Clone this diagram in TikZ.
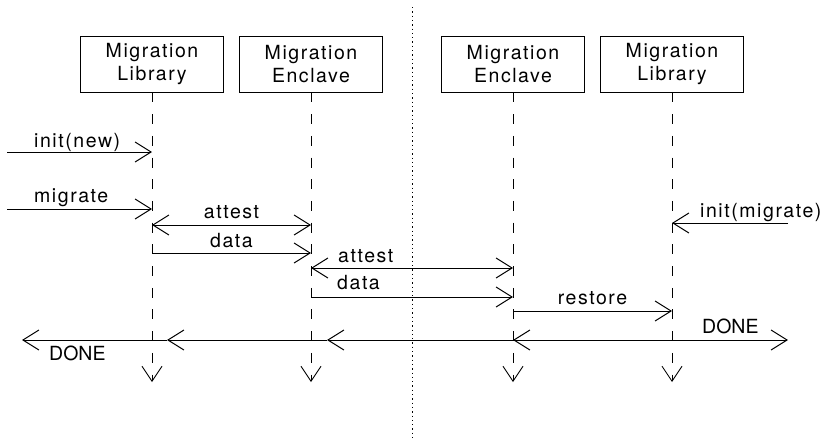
\documentclass[tikz,border=0pt]{standalone}
\usepackage{fontspec}
\setmainfont{TeX Gyre Heros}
\usetikzlibrary{arrows.meta}
\begin{document}
\begin{tikzpicture}[x=1pt,y=-1pt,
  every node/.style={font=\fontsize{19.5}{22.5}\selectfont},
  actor/.style={draw, line width=0.9pt, minimum width=143pt, minimum height=56pt,
    inner sep=0pt, align=center, font=\fontsize{19.5}{22.5}\selectfont\addfontfeature{LetterSpace=8}},
  life/.style={line width=0.9pt, dash pattern=on 10pt off 11.7pt,
    -{Straight Barb[length=15pt,width=20pt]}},
  msg/.style={line width=1pt, -{Straight Barb[length=16pt,width=20pt]}},
  both/.style={line width=1pt, {Straight Barb[length=16pt,width=20pt]}-{Straight Barb[length=16pt,width=20pt]}},
  lbl/.style={inner sep=0pt, font=\fontsize{19.5}{22.5}\selectfont\addfontfeature{LetterSpace=8}},
  plain/.style={inner sep=0pt, font=\fontsize{19.5}{22.5}\selectfont},
  sep/.style={line width=0.9pt, dash pattern=on 1.3pt off 3pt}]

\useasboundingbox (0,0) rectangle (825,440);

% machine boundary
\coordinate (sepTop) at (412,7);
\coordinate (sepBot) at (412,440);
\draw[sep] (sepTop) -- (sepBot);

% participants
\node[actor] (lib1) at (152,64) {Migration\\Library};
\node[actor] (enc1) at (311,64) {Migration\\Enclave};
\node[actor] (enc2) at (513,64) {Migration\\Enclave};
\node[actor] (lib2) at (672,64) {Migration\\Library};

% lifelines
\coordinate (lib1-end) at (152,382);
\coordinate (enc1-end) at (311,382);
\coordinate (enc2-end) at (513,382);
\coordinate (lib2-end) at (672,382);
\draw[life] (lib1) -- (lib1-end);
\draw[life] (enc1) -- (enc1-end);
\draw[life] (enc2) -- (enc2-end);
\draw[life] (lib2) -- (lib2-end);

% source side
\coordinate (initSrc) at (7,152);
\coordinate (lib1-init) at (152,152);
\draw[msg] (initSrc) -- (lib1-init);
\node[lbl, anchor=base west] (initLbl) at (34,147) {init(new)};

\coordinate (migSrc) at (7,209);
\coordinate (lib1-mig) at (152,209);
\draw[msg] (migSrc) -- (lib1-mig);
\node[lbl, anchor=base west] (migLbl) at (34,202) {migrate};

\coordinate (lib1-att) at (152,225);
\coordinate (enc1-att) at (311,225);
\draw[both] (lib1-att) -- (enc1-att);
\node[lbl, anchor=base] (att1Lbl) at (231.5,218) {attest};

\coordinate (lib1-data) at (152,253);
\coordinate (enc1-data) at (311,253);
\draw[msg] (lib1-data) -- (enc1-data);
\node[lbl, anchor=base] (data1Lbl) at (231.5,247) {data};

% enclave to enclave
\coordinate (enc1-att2) at (311,268);
\coordinate (enc2-att2) at (513,268);
\draw[both] (enc1-att2) -- (enc2-att2);
\node[lbl, anchor=base west] (att2Lbl) at (338,262) {attest};

\coordinate (enc1-data2) at (311,297);
\coordinate (enc2-data2) at (513,297);
\draw[msg] (enc1-data2) -- (enc2-data2);
\node[lbl, anchor=base west] (data2Lbl) at (337,289) {data};

% destination side
\coordinate (initDst) at (788,223);
\coordinate (lib2-init) at (672,223);
\draw[msg] (initDst) -- (lib2-init);
\node[lbl, anchor=base west] (initMigLbl) at (700,217) {init(migrate)};

\coordinate (enc2-rest) at (513,311);
\coordinate (lib2-rest) at (672,311);
\draw[msg] (enc2-rest) -- (lib2-rest);
\node[lbl, anchor=base] (restLbl) at (592.5,304) {restore};

% completion
\coordinate (doneR) at (788,340);
\coordinate (done4) at (658,340);
\coordinate (done3) at (513,340);
\coordinate (done2) at (327,340);
\coordinate (done1) at (167,340);
\coordinate (doneL) at (22,340);
\draw[msg] (done3) -- (doneR);
\draw[msg] (done4) -- (done3);
\draw[msg] (done3) -- (done2);
\draw[msg] (done2) -- (done1);
\draw[msg] (done1) -- (doneL);
\node[plain, anchor=base west] (doneLLbl) at (49,360) {DONE};
\node[plain, anchor=base west] (doneRLbl) at (702,333) {DONE};
\end{tikzpicture}
\end{document}
